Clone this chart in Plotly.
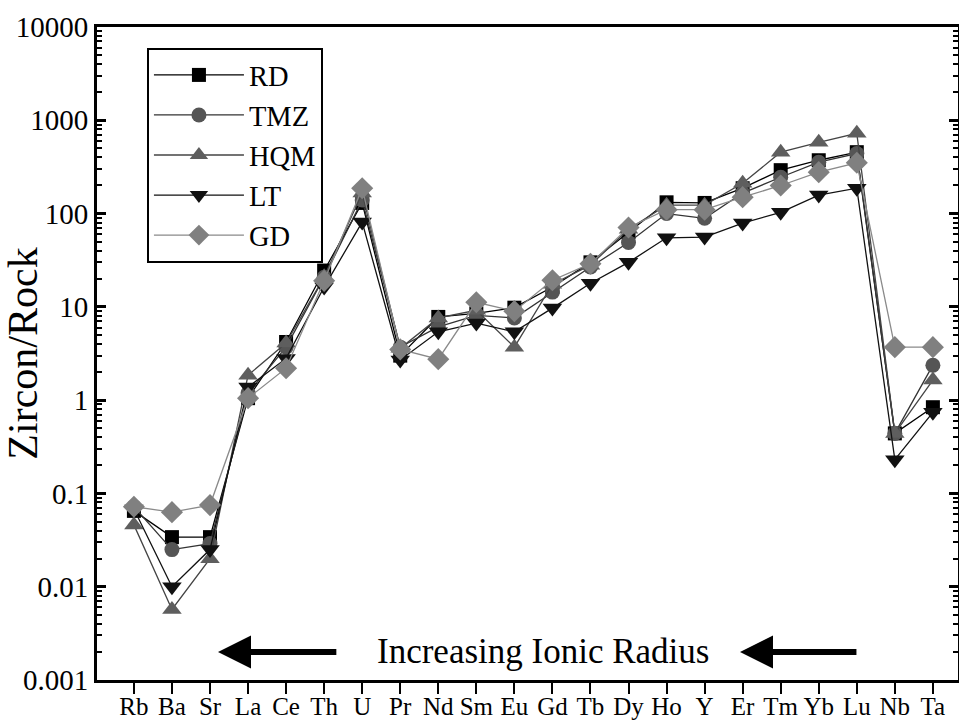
import plotly.graph_objects as go
import math

elements = ["Rb", "Ba", "Sr", "La", "Ce", "Th", "U", "Pr", "Nd", "Sm", "Eu",
            "Gd", "Tb", "Dy", "Ho", "Y", "Er", "Tm", "Yb", "Lu", "Nb", "Ta"]

RD = [0.065, 0.034, 0.034, 1.05, 4.2, 24.5, 130, 3.0, 7.8, 8.5, 9.8,
      16.3, 30, 63, 132, 130, 187, 292, 373, 455, 0.44, 0.84]
TMZ = [0.072, 0.025, 0.029, 1.19, 3.7, 20.8, 140, 3.7, 6.1, 8.1, 7.6,
       14.4, 26.7, 49, 100, 89, 166, 245, 355, 440, 0.44, 2.37]
HQM = [0.046, 0.0057, 0.020, 1.85, 4.1, 21, 166, 3.6, 7.6, 9.2, 3.7,
       17.5, 28, 68, 123, 123, 211, 455, 580, 725, 0.44, 1.64]
LT = [0.068, 0.010, 0.025, 1.38, 2.8, 16.3, 81, 2.7, 5.4, 6.7, 5.4,
      9.7, 17.9, 30, 55, 56, 79, 103, 158, 187, 0.23, 0.74]
GD = [0.072, 0.063, 0.075, 1.05, 2.2, 19, 187, 3.5, 2.75, 11.2, 9.0,
      19.3, 29, 71, 110, 110, 150, 200, 278, 350, 3.7, 3.7]

series = [
    ("RD", RD, "square", "#000000", "#000000", 14),
    ("TMZ", TMZ, "circle", "#555555", "#333333", 15),
    ("HQM", HQM, "triangle-up", "#5e5e5e", "#444444", 17),
    ("LT", LT, "triangle-down", "#111111", "#111111", 17),
    ("GD", GD, "diamond", "#808080", "#8a8a8a", 17),
]

serif = "Liberation Serif, Times New Roman, serif"

fig = go.Figure()
for name, vals, sym, mcol, lcol, msz in series:
    fig.add_trace(go.Scatter(
        x=list(range(len(elements))), y=vals, name=name, mode="lines+markers",
        line=dict(color=lcol, width=1.3),
        marker=dict(symbol=sym, color=mcol, size=msz, line=dict(width=0)),
    ))

ytickvals = [0.001, 0.01, 0.1, 1, 10, 100, 1000, 10000]
yticktext = ["0.001", "0.01", "0.1", "1", "10", "100", "1000", "10000"]

fig.update_layout(
    width=959, height=724,
    margin=dict(l=97, r=1, t=27, b=44),
    plot_bgcolor="white", paper_bgcolor="white",
    font=dict(family=serif, color="black"),
    showlegend=True,
    legend=dict(
        x=0.058, y=0.968, xanchor="left", yanchor="top",
        bgcolor="white", bordercolor="black", borderwidth=2,
        font=dict(family=serif, size=28.5, color="black"),
        tracegroupgap=0, itemwidth=90,
    ),
    xaxis=dict(
        tickmode="array", tickvals=list(range(len(elements))), ticktext=elements,
        range=[-0.97, 21.66], showgrid=False, zeroline=False, automargin=False,
        showline=True, linecolor="black", linewidth=3, mirror=True,
        ticks="outside", ticklen=11, tickwidth=2, tickcolor="black",
        ticklabelstandoff=-9,
        tickfont=dict(family=serif, size=25, color="black"),
    ),
    yaxis=dict(
        type="log", range=[-3, 4], showgrid=False, zeroline=False, automargin=False,
        tickmode="array", tickvals=ytickvals, ticktext=yticktext,
        showline=True, linecolor="black", linewidth=3, mirror="allticks",
        ticks="inside", ticklen=9, tickwidth=3, tickcolor="black",
        tickfont=dict(family=serif, size=29, color="black"),
        minor=dict(ticks="inside", ticklen=5, tickwidth=1.5, tickcolor="black",
                   dtick="D1", showgrid=False),
        title=dict(text="Zircon/Rock", font=dict(family=serif, size=42, color="black"),
                   standoff=6),
    ),
)

ya = math.log10(0.002)
fig.add_annotation(x=10.75, y=ya, xref="x", yref="y", text="Increasing Ionic Radius",
                   showarrow=False, font=dict(family=serif, size=35, color="black"))
for head, tail in [(2.21, 5.36), (15.93, 19.03)]:
    fig.add_annotation(x=head, y=ya, xref="x", yref="y", ax=tail, ay=ya,
                       axref="x", ayref="y", text="", showarrow=True,
                       arrowhead=2, arrowsize=1.1, arrowwidth=6, arrowcolor="black")

fig.write_html("out.html")
